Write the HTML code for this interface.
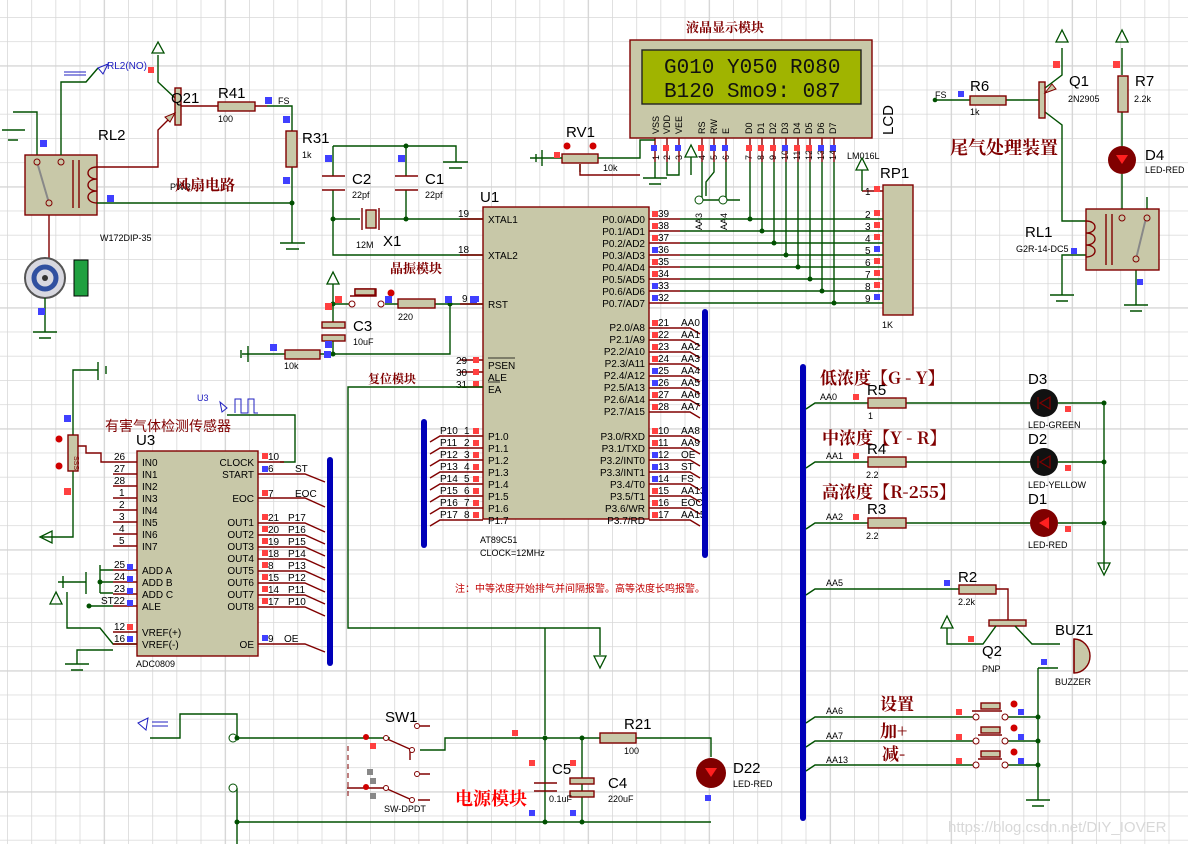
<!DOCTYPE html>
<html><head><meta charset="utf-8"><style>
html,body{margin:0;padding:0;background:#fff}
svg{display:block}
text{font-family:"Liberation Sans","Noto Sans CJK SC",sans-serif;fill:#000}
.w{stroke:#005000;stroke-width:1.4;fill:none}
.r{stroke:#800000;stroke-width:1.4;fill:none}
.c{fill:#c8c8a8;stroke:#800000;stroke-width:1.4}
.bus{stroke:#0000b8;stroke-width:6;stroke-linecap:round}
.t{font-size:10px}
.s{font-size:9px}
.l{font-size:15px}
.cn{font-family:"Noto Serif CJK SC","Noto Sans CJK SC",serif;font-weight:bold;fill:#800000}
.b{fill:#4040ff}.p{fill:#ff4040}
</style></head><body>
<svg width="1188" height="844" viewBox="0 0 1188 844" xmlns="http://www.w3.org/2000/svg">
<defs>
<pattern id="g1" x="7" y="17" width="24.2" height="24.2" patternUnits="userSpaceOnUse">
<path d="M0 0V24.2M0 0H24.2" stroke="#d8d8d8" stroke-width="1.6" fill="none"/></pattern>
<pattern id="g2" x="103.8" y="65.4" width="121" height="121" patternUnits="userSpaceOnUse">
<path d="M0 0V121M0 0H121" stroke="#d2d2d2" stroke-width="2.2" fill="none"/></pattern>
</defs>
<rect width="1188" height="844" fill="#fff"/>
<rect width="1188" height="844" fill="url(#g1)"/>
<rect width="1188" height="844" fill="url(#g2)"/>

<!-- ===== Fan circuit ===== -->
<path class="w" d="M13 112H37V155M2 130H25M8 140H18"/>
<rect class="c" x="25" y="155" width="72" height="60"/>
<path d="M37 162L49 203" stroke="#888" stroke-width="2"/>
<circle cx="37" cy="162" r="3" fill="#c8c8a8" stroke="#800000"/><circle cx="61" cy="162" r="3" fill="#c8c8a8" stroke="#800000"/><circle cx="49" cy="203" r="3" fill="#c8c8a8" stroke="#800000"/>
<path class="r" d="M73 160V208M79 160V208M97 167C85 167 85 179 97 179C85 179 85 191 97 191C85 191 85 203 97 203"/>
<path class="w" d="M61 155V82H86L98 68"/>
<path d="M98 68L108 64 103 74Z" fill="none" stroke="#2020c0"/>
<path d="M64 72H86M64 75H86" stroke="#2020c0"/>
<text x="107" y="69" class="t" style="fill:#2020c0">RL2(NO)</text>
<rect x="148" y="67" width="6" height="6" class="p"/>
<path class="w" d="M158 55V82L175 98"/>
<path d="M158 42L152 53H164Z" fill="none" stroke="#005000" stroke-width="1.3"/>
<rect class="c" x="175" y="88" width="6" height="37"/>
<path class="r" d="M175 113L158 130V167H97"/>
<path d="M175 113L165 117 170 122Z" fill="#c8c8a8" stroke="#800000"/>
<text x="171" y="103" class="l">Q21</text>
<text x="98" y="140" class="l">RL2</text>
<text x="100" y="241" class="s">W172DIP-35</text>
<path class="r" d="M181 106H218M255 106H267"/>
<rect class="c" x="218" y="102" width="37" height="9"/>
<text x="218" y="98" class="l">R41</text><text x="218" y="122" class="s">100</text>
<path class="w" d="M267 106H292V131M292 167V203H97M292 203V243"/>
<rect class="c" x="286" y="131" width="11" height="36"/>
<text x="302" y="143" class="l">R31</text><text x="302" y="158" class="s">1k</text>
<text x="278" y="104" class="s">FS</text>
<rect x="265" y="97" width="7" height="7" class="b"/><rect x="283" y="116" width="7" height="7" class="b"/><rect x="283" y="177" width="7" height="7" class="b"/><rect x="107" y="195" width="7" height="7" class="b"/><rect x="40" y="140" width="7" height="7" class="b"/>
<circle cx="292" cy="203" r="2.5" fill="#005000"/>
<path class="w" d="M280 243H305M286 249H299"/>
<text x="170" y="190" class="s">PWR</text>
<text x="175" y="190" class="cn" font-size="15">风扇电路</text>
<path class="r" d="M49 215V258"/>
<circle cx="45" cy="278" r="20" fill="#d8d8e0" stroke="#555" stroke-width="2"/>
<circle cx="45" cy="278" r="11" fill="none" stroke="#3050a0" stroke-width="5"/>
<circle cx="45" cy="278" r="3" fill="#333"/>
<rect x="74" y="260" width="14" height="36" fill="#20a040" stroke="#000"/>
<path class="w" d="M45 298V332M33 332H57M39 338H51"/>
<rect x="38" y="308" width="7" height="7" class="b"/>

<!-- ===== Crystal ===== -->
<path class="w" d="M333 146H456V162M333 146V176M406 146V176M333 190V255H483M333 219H360M380 219H483M406 190V219M443 162H468M449 168H462"/>
<path class="r" d="M322 176H345M322 190H345M395 176H418M395 190H418M362 208V230M379 208V230"/>
<rect class="c" x="366" y="210" width="10" height="18"/>
<circle cx="333" cy="219" r="2.5" fill="#005000"/><circle cx="406" cy="219" r="2.5" fill="#005000"/><circle cx="406" cy="146" r="2.5" fill="#005000"/>
<text x="352" y="184" class="l">C2</text><text x="352" y="198" class="s">22pf</text>
<text x="425" y="184" class="l">C1</text><text x="425" y="198" class="s">22pf</text>
<text x="356" y="248" class="s">12M</text><text x="383" y="246" class="l">X1</text>
<rect x="325" y="155" width="7" height="7" class="b"/><rect x="398" y="155" width="7" height="7" class="b"/>
<text x="390" y="273" class="cn" font-size="13">晶振模块</text>
<path d="M333 272L327 284H339Z" fill="none" stroke="#005000" stroke-width="1.3"/>
<path class="w" d="M333 284V322M333 304H350M385 304H398M435 304H483M450 304V354H333V335M242 354H285M320 354H333M248 346V362M241 350V358"/>
<circle cx="352" cy="304" r="3" fill="#fff" stroke="#800000"/><circle cx="381" cy="304" r="3" fill="#fff" stroke="#800000"/>
<path class="r" d="M350 296H376V289H355V296"/>
<rect class="c" x="355" y="289" width="20" height="6"/>
<circle cx="391" cy="293" r="3.5" fill="#d00000"/>
<rect class="c" x="398" y="299" width="37" height="9"/>
<text x="398" y="320" class="s">220</text>
<rect class="c" x="322" y="322" width="23" height="6"/><rect class="c" x="322" y="335" width="23" height="6"/>
<text x="353" y="331" class="l">C3</text><text x="353" y="345" class="s">10uF</text>
<rect class="c" x="285" y="350" width="35" height="9"/><text x="284" y="369" class="s">10k</text>
<circle cx="333" cy="304" r="2.5" fill="#005000"/><circle cx="450" cy="304" r="2.5" fill="#005000"/><circle cx="333" cy="354" r="2.5" fill="#005000"/>
<rect x="335" y="296" width="7" height="7" class="p"/><rect x="325" y="303" width="7" height="7" class="p"/><rect x="385" y="296" width="7" height="7" class="b"/><rect x="445" y="296" width="7" height="7" class="b"/><rect x="470" y="296" width="7" height="7" class="b"/><rect x="325" y="341" width="7" height="7" class="b"/><rect x="270" y="344" width="7" height="7" class="b"/><rect x="324" y="351" width="7" height="7" class="b"/>

<!-- ===== U1 ===== -->
<rect class="c" x="483" y="207" width="166" height="312"/>
<text x="480" y="202" class="l">U1</text>
<path class="r" d="M460 219H483M460 255H483M460 304H483M460 360H483M460 372H483M460 387H483"/>
<text x="458" y="217" class="t">19</text><text x="458" y="253" class="t">18</text><text x="462" y="302" class="t">9</text>
<text x="456" y="364" class="t">29</text><text x="456" y="376" class="t">30</text><text x="456" y="388" class="t">31</text>
<rect x="473" y="357" width="6" height="6" class="p"/><rect x="473" y="369" width="6" height="6" class="p"/><rect x="473" y="381" width="6" height="6" class="p"/>
<g class="t"><text x="488" y="223">XTAL1</text><text x="488" y="259">XTAL2</text><text x="488" y="308">RST</text>
<text x="488" y="369">PSEN</text><text x="488" y="381">ALE</text><text x="488" y="393">EA</text>
<text x="488" y="440">P1.0</text><text x="488" y="452">P1.1</text><text x="488" y="464">P1.2</text><text x="488" y="476">P1.3</text><text x="488" y="488">P1.4</text><text x="488" y="500">P1.5</text><text x="488" y="512">P1.6</text><text x="488" y="524">P1.7</text></g>
<path d="M488 358H515M488 382H500" stroke="#000" stroke-width="0.8"/>
<g class="t" text-anchor="end"><text x="645" y="223">P0.0/AD0</text><text x="645" y="235">P0.1/AD1</text><text x="645" y="247">P0.2/AD2</text><text x="645" y="259">P0.3/AD3</text><text x="645" y="271">P0.4/AD4</text><text x="645" y="283">P0.5/AD5</text><text x="645" y="295">P0.6/AD6</text><text x="645" y="307">P0.7/AD7</text>
<text x="645" y="331">P2.0/A8</text><text x="645" y="343">P2.1/A9</text><text x="645" y="355">P2.2/A10</text><text x="645" y="367">P2.3/A11</text><text x="645" y="379">P2.4/A12</text><text x="645" y="391">P2.5/A13</text><text x="645" y="403">P2.6/A14</text><text x="645" y="415">P2.7/A15</text>
<text x="645" y="440">P3.0/RXD</text><text x="645" y="452">P3.1/TXD</text><text x="645" y="464">P3.2/INT0</text><text x="645" y="476">P3.3/INT1</text><text x="645" y="488">P3.4/T0</text><text x="645" y="500">P3.5/T1</text><text x="645" y="512">P3.6/WR</text><text x="645" y="524">P3.7/RD</text></g>
<text x="480" y="543" class="s">AT89C51</text><text x="480" y="556" class="s">CLOCK=12MHz</text>
<g class="r">
<path d="M649 219H680M649 231H680M649 243H680M649 255H680M649 267H680M649 279H680M649 291H680M649 303H680"/>
<path d="M649 328H690L700 334M649 340H690L700 346M649 352H690L700 358M649 364H690L700 370M649 376H690L700 382M649 388H690L700 394M649 400H690L700 406M649 412H690L700 418"/>
<path d="M649 436H690L700 442M649 448H690L700 454M649 460H690L700 466M649 472H690L700 478M649 484H690L700 490M649 496H690L700 502M649 508H690L700 514M649 520H690L700 526"/>
<path d="M483 436H440L430 442M483 448H440L430 454M483 460H440L430 466M483 472H440L430 478M483 484H440L430 490M483 496H440L430 502M483 508H440L430 514M483 520H440L430 526"/>
</g>
<g class="t"><text x="658" y="217">39</text><text x="658" y="229">38</text><text x="658" y="241">37</text><text x="658" y="253">36</text><text x="658" y="265">35</text><text x="658" y="277">34</text><text x="658" y="289">33</text><text x="658" y="301">32</text>
<text x="658" y="326">21</text><text x="658" y="338">22</text><text x="658" y="350">23</text><text x="658" y="362">24</text><text x="658" y="374">25</text><text x="658" y="386">26</text><text x="658" y="398">27</text><text x="658" y="410">28</text>
<text x="658" y="434">10</text><text x="658" y="446">11</text><text x="658" y="458">12</text><text x="658" y="470">13</text><text x="658" y="482">14</text><text x="658" y="494">15</text><text x="658" y="506">16</text><text x="658" y="518">17</text>
<text x="681" y="326">AA0</text><text x="681" y="338">AA1</text><text x="681" y="350">AA2</text><text x="681" y="362">AA3</text><text x="681" y="374">AA4</text><text x="681" y="386">AA5</text><text x="681" y="398">AA6</text><text x="681" y="410">AA7</text>
<text x="681" y="434">AA8</text><text x="681" y="446">AA9</text><text x="681" y="458">OE</text><text x="681" y="470">ST</text><text x="681" y="482">FS</text><text x="681" y="494">AA13</text><text x="681" y="506">EOC</text><text x="681" y="518">AA15</text>
<text x="440" y="434">P10</text><text x="440" y="446">P11</text><text x="440" y="458">P12</text><text x="440" y="470">P13</text><text x="440" y="482">P14</text><text x="440" y="494">P15</text><text x="440" y="506">P16</text><text x="440" y="518">P17</text>
<text x="464" y="434">1</text><text x="464" y="446">2</text><text x="464" y="458">3</text><text x="464" y="470">4</text><text x="464" y="482">5</text><text x="464" y="494">6</text><text x="464" y="506">7</text><text x="464" y="518">8</text></g>
<g class="p"><rect x="652" y="211" width="6" height="6"/><rect x="652" y="223" width="6" height="6"/><rect x="652" y="235" width="6" height="6"/><rect x="652" y="259" width="6" height="6"/><rect x="652" y="271" width="6" height="6"/>
<rect x="652" y="320" width="6" height="6"/><rect x="652" y="332" width="6" height="6"/><rect x="652" y="344" width="6" height="6"/><rect x="652" y="356" width="6" height="6"/><rect x="652" y="392" width="6" height="6"/><rect x="652" y="404" width="6" height="6"/>
<rect x="652" y="428" width="6" height="6"/><rect x="652" y="440" width="6" height="6"/><rect x="652" y="488" width="6" height="6"/><rect x="652" y="500" width="6" height="6"/><rect x="652" y="512" width="6" height="6"/>
<rect x="473" y="428" width="6" height="6"/><rect x="473" y="440" width="6" height="6"/><rect x="473" y="452" width="6" height="6"/><rect x="473" y="464" width="6" height="6"/><rect x="473" y="476" width="6" height="6"/><rect x="473" y="488" width="6" height="6"/><rect x="473" y="500" width="6" height="6"/><rect x="473" y="512" width="6" height="6"/></g>
<g class="b"><rect x="652" y="247" width="6" height="6"/><rect x="652" y="283" width="6" height="6"/><rect x="652" y="295" width="6" height="6"/><rect x="652" y="368" width="6" height="6"/><rect x="652" y="380" width="6" height="6"/><rect x="652" y="452" width="6" height="6"/><rect x="652" y="464" width="6" height="6"/><rect x="652" y="476" width="6" height="6"/><rect x="473" y="296" width="6" height="6"/></g>
<line class="bus" x1="424" y1="422" x2="424" y2="545"/>
<line class="bus" x1="705" y1="312" x2="705" y2="555"/>
<text x="368" y="383" class="cn" font-size="12">复位模块</text>
<path class="w" d="M483 387H348V628H600V655M545 628V735"/>
<path d="M600 668L594 656H606Z" fill="none" stroke="#005000" stroke-width="1.3"/>
<text x="455" y="592" class="t" style="fill:#c00000;font-family:'Noto Sans CJK SC',sans-serif">注：中等浓度开始排气并间隔报警。高等浓度长鸣报警。</text>

<!-- ===== LCD ===== -->
<text x="686" y="32" class="cn" font-size="13">液晶显示模块</text>
<rect class="c" x="630" y="40" width="242" height="98"/>
<rect x="642" y="50" width="219" height="54" fill="#a0b400" stroke="#222" stroke-width="1.4"/>
<text x="664" y="73" style="font-family:'Liberation Mono',monospace;font-size:21px;fill:#111">G010 Y050 R080</text>
<text x="664" y="97" style="font-family:'Liberation Mono',monospace;font-size:21px;fill:#111">B120 Smo9: 087</text>
<g class="s">
<text transform="translate(659,134) rotate(-90)">VSS</text><text transform="translate(670,134) rotate(-90)">VDD</text><text transform="translate(682,134) rotate(-90)">VEE</text>
<text transform="translate(705,134) rotate(-90)">RS</text><text transform="translate(717,134) rotate(-90)">RW</text><text transform="translate(729,134) rotate(-90)">E</text>
<text transform="translate(752,134) rotate(-90)">D0</text><text transform="translate(764,134) rotate(-90)">D1</text><text transform="translate(776,134) rotate(-90)">D2</text><text transform="translate(788,134) rotate(-90)">D3</text><text transform="translate(800,134) rotate(-90)">D4</text><text transform="translate(812,134) rotate(-90)">D5</text><text transform="translate(824,134) rotate(-90)">D6</text><text transform="translate(836,134) rotate(-90)">D7</text>
<text transform="translate(659,160) rotate(-90)">1</text><text transform="translate(670,160) rotate(-90)">2</text><text transform="translate(682,160) rotate(-90)">3</text><text transform="translate(705,160) rotate(-90)">4</text><text transform="translate(717,160) rotate(-90)">5</text><text transform="translate(729,160) rotate(-90)">6</text>
<text transform="translate(752,160) rotate(-90)">7</text><text transform="translate(764,160) rotate(-90)">8</text><text transform="translate(776,160) rotate(-90)">9</text><text transform="translate(788,160) rotate(-90)">10</text><text transform="translate(800,160) rotate(-90)">11</text><text transform="translate(812,160) rotate(-90)">12</text><text transform="translate(824,160) rotate(-90)">13</text><text transform="translate(836,160) rotate(-90)">14</text>
</g>
<text transform="translate(893,135) rotate(-90)" class="l">LCD</text>
<text x="847" y="159" class="s">LM016L</text>
<g class="r"><path d="M655 138V162M667 138V162M679 138V162M702 138V162M714 138V162M726 138V162M750 138V162M762 138V162M774 138V162M786 138V162M798 138V162M810 138V162M822 138V162M834 138V162"/></g>
<path class="w" d="M655 162V178M643 178H667M649 184H661M667 162V175H679V162M691 157V175M702 162V200H740M714 162V172L706 182V196M726 162V200"/>
<path d="M691 145L685 157H697Z" fill="none" stroke="#005000" stroke-width="1.3"/>
<circle cx="699" cy="200" r="4" fill="#fff" stroke="#005000"/><circle cx="723" cy="200" r="4" fill="#fff" stroke="#005000"/>
<text transform="translate(702,230) rotate(-90)" class="s">AA3</text><text transform="translate(727,230) rotate(-90)" class="s">AA4</text>
<g class="w"><path d="M750 162V219M762 162V231M774 162V243M786 162V255M798 162V267M810 162V279M822 162V291M834 162V303"/>
<path d="M680 219H873M680 231H873M680 243H873M680 255H873M680 267H873M680 279H873M680 291H873M680 303H873"/></g>
<g fill="#005000"><circle cx="750" cy="219" r="2.5"/><circle cx="762" cy="231" r="2.5"/><circle cx="774" cy="243" r="2.5"/><circle cx="786" cy="255" r="2.5"/><circle cx="798" cy="267" r="2.5"/><circle cx="810" cy="279" r="2.5"/><circle cx="822" cy="291" r="2.5"/><circle cx="834" cy="303" r="2.5"/></g>
<g class="b"><rect x="651" y="145" width="6" height="6"/><rect x="675" y="145" width="6" height="6"/><rect x="710" y="145" width="6" height="6"/><rect x="722" y="145" width="6" height="6"/><rect x="782" y="145" width="6" height="6"/><rect x="818" y="145" width="6" height="6"/><rect x="830" y="145" width="6" height="6"/></g>
<g class="p"><rect x="663" y="145" width="6" height="6"/><rect x="698" y="145" width="6" height="6"/><rect x="746" y="145" width="6" height="6"/><rect x="758" y="145" width="6" height="6"/><rect x="770" y="145" width="6" height="6"/><rect x="794" y="145" width="6" height="6"/><rect x="806" y="145" width="6" height="6"/></g>
<!-- RV1 -->
<text x="566" y="137" class="l">RV1</text>
<rect class="c" x="562" y="154" width="36" height="9"/>
<path class="w" d="M530 158H562M598 158H640V140H655M542 150V166M536 154V162M580 172V164"/>
<path class="r" d="M580 164V175H640"/>
<circle cx="567" cy="146" r="3.5" fill="#d00000"/><circle cx="593" cy="146" r="3.5" fill="#d00000"/>
<text x="603" y="171" class="s">10k</text>
<rect x="554" y="152" width="6" height="6" class="p"/>
<!-- RP1 -->
<rect class="c" x="883" y="185" width="30" height="130"/>
<text x="880" y="178" class="l">RP1</text><text x="882" y="328" class="s">1K</text>
<path class="r" d="M862 191H883"/><path class="w" d="M862 191V170M873 219H883M873 231H883M873 243H883M873 255H883M873 267H883M873 279H883M873 291H883M873 303H883"/>
<path d="M862 158L856 170H868Z" fill="none" stroke="#005000" stroke-width="1.3"/>
<g class="t"><text x="865" y="195">1</text><text x="865" y="218">2</text><text x="865" y="230">3</text><text x="865" y="242">4</text><text x="865" y="254">5</text><text x="865" y="266">6</text><text x="865" y="278">7</text><text x="865" y="290">8</text><text x="865" y="302">9</text></g>
<g class="p"><rect x="874" y="186" width="6" height="6"/><rect x="874" y="210" width="6" height="6"/><rect x="874" y="222" width="6" height="6"/><rect x="874" y="234" width="6" height="6"/><rect x="874" y="258" width="6" height="6"/><rect x="874" y="270" width="6" height="6"/><rect x="874" y="282" width="6" height="6"/></g>
<g class="b"><rect x="874" y="246" width="6" height="6"/><rect x="874" y="294" width="6" height="6"/></g>

<!-- ===== Exhaust ===== -->
<path class="w" d="M935 100H970M1006 100H1039M1062 48V75L1045 88M1045 112L1062 125V221H1086M1122 48V75M1122 112V146M1122 174V209M1086 255H1062V295M1050 295H1074M1056 301H1068M1136 270V305M1124 305H1148M1130 311H1142M1147 197V212"/>
<circle cx="935" cy="100" r="2.3" fill="#005000"/>
<path d="M1062 30L1056 42H1068Z M1122 30L1116 42H1128Z" fill="none" stroke="#005000" stroke-width="1.3"/>
<rect class="c" x="970" y="96" width="36" height="9"/>
<text x="970" y="91" class="l">R6</text><text x="970" y="115" class="s">1k</text><text x="935" y="98" class="s">FS</text>
<rect x="958" y="91" width="6" height="6" class="b"/>
<rect class="c" x="1039" y="82" width="6" height="36"/>
<path d="M1045 93L1052 84 1056 89Z" fill="#c8c8a8" stroke="#800000"/>
<text x="1069" y="86" class="l">Q1</text><text x="1068" y="102" class="s">2N2905</text>
<rect x="1053" y="61" width="7" height="7" class="p"/><rect x="1113" y="61" width="7" height="7" class="p"/>
<rect class="c" x="1118" y="76" width="10" height="36"/>
<text x="1135" y="86" class="l">R7</text><text x="1134" y="102" class="s">2.2k</text>
<circle cx="1122" cy="160" r="14" fill="#800000"/><path d="M1116 155H1128L1122 164Z" fill="#ff2020"/>
<text x="1145" y="160" class="l">D4</text><text x="1145" y="173" class="s">LED-RED</text>
<text x="950" y="154" class="cn" font-size="18">尾气处理装置</text>
<rect class="c" x="1086" y="209" width="73" height="61"/>
<path class="r" d="M1086 221C1098 221 1098 233 1086 233C1098 233 1098 245 1086 245C1098 245 1098 257 1086 257M1106 214V265M1112 214V265"/>
<path d="M1146 218L1136 259" stroke="#888" stroke-width="2"/>
<circle cx="1122" cy="218" r="3" fill="#c8c8a8" stroke="#800000"/><circle cx="1147" cy="218" r="3" fill="#c8c8a8" stroke="#800000"/><circle cx="1136" cy="259" r="3" fill="#c8c8a8" stroke="#800000"/>
<text x="1025" y="237" class="l">RL1</text><text x="1016" y="252" class="s">G2R-14-DC5</text>
<rect x="1071" y="248" width="6" height="6" class="b"/><rect x="1137" y="279" width="6" height="6" class="b"/>

<!-- ===== Right LEDs ===== -->
<line class="bus" x1="803" y1="367" x2="803" y2="818"/>
<text x="820" y="384" class="cn" font-size="17">低浓度【G - Y】</text>
<text x="822" y="444" class="cn" font-size="17">中浓度【Y - R】</text>
<text x="822" y="498" class="cn" font-size="17">高浓度【R-255】</text>
<g class="w"><path d="M806 409L815 403H868M906 403H1030M1058 403H1104M806 468L815 462H868M906 462H1030M1058 462H1104M806 529L815 523H868M906 523H1030M1058 523H1104M1104 403V570"/>
<path d="M806 595L815 589H959M806 723L815 717H974M806 747L815 741H974M806 771L815 765H974M1006 717H1038M1006 741H1038M1006 765H1038M1038 668V800M1026 800H1050M1032 806H1044M1038 668H1058"/></g>
<path d="M1104 575L1098 563H1110Z" fill="none" stroke="#005000" stroke-width="1.3"/>
<g fill="#005000"><circle cx="1104" cy="403" r="2.5"/><circle cx="1104" cy="462" r="2.5"/><circle cx="1104" cy="523" r="2.5"/><circle cx="1038" cy="717" r="2.5"/><circle cx="1038" cy="741" r="2.5"/><circle cx="1038" cy="765" r="2.5"/></g>
<rect class="c" x="868" y="398" width="38" height="10"/><rect class="c" x="868" y="457" width="38" height="10"/><rect class="c" x="868" y="518" width="38" height="10"/>
<g class="s"><text x="820" y="400">AA0</text><text x="826" y="459">AA1</text><text x="826" y="520">AA2</text><text x="826" y="586">AA5</text><text x="826" y="714">AA6</text><text x="826" y="739">AA7</text><text x="826" y="763">AA13</text>
<text x="868" y="419">1</text><text x="866" y="478">2.2</text><text x="866" y="539">2.2</text>
<text x="1028" y="428">LED-GREEN</text><text x="1028" y="488">LED-YELLOW</text><text x="1028" y="548">LED-RED</text>
<text x="958" y="605">2.2k</text><text x="982" y="672">PNP</text><text x="1055" y="685">BUZZER</text></g>
<g class="l"><text x="867" y="395">R5</text><text x="867" y="454">R4</text><text x="867" y="514">R3</text><text x="1028" y="384">D3</text><text x="1028" y="444">D2</text><text x="1028" y="504">D1</text><text x="958" y="582">R2</text><text x="982" y="656">Q2</text><text x="1055" y="635">BUZ1</text></g>
<circle cx="1044" cy="403" r="14" fill="#111"/><path d="M1050 397V409L1040 403Z M1038 397V409" fill="none" stroke="#800000" stroke-width="1.2"/>
<circle cx="1044" cy="462" r="14" fill="#111"/><path d="M1050 456V468L1040 462Z M1038 456V468" fill="none" stroke="#800000" stroke-width="1.2"/>
<circle cx="1044" cy="523" r="14" fill="#800000"/><path d="M1049 517V529L1039 523Z" fill="#ff2020"/>
<g class="p"><rect x="853" y="394" width="6" height="6"/><rect x="853" y="453" width="6" height="6"/><rect x="853" y="514" width="6" height="6"/><rect x="1065" y="406" width="6" height="6"/><rect x="1065" y="465" width="6" height="6"/><rect x="1065" y="526" width="6" height="6"/><rect x="968" y="636" width="6" height="6"/><rect x="956" y="709" width="6" height="6"/><rect x="956" y="734" width="6" height="6"/><rect x="956" y="758" width="6" height="6"/></g>
<g class="b"><rect x="944" y="580" width="6" height="6"/><rect x="1041" y="659" width="6" height="6"/><rect x="1018" y="709" width="6" height="6"/><rect x="1018" y="734" width="6" height="6"/><rect x="1018" y="758" width="6" height="6"/></g>
<rect class="c" x="959" y="585" width="37" height="9"/>
<path class="r" d="M996 589H1008V620"/>
<rect class="c" x="989" y="620" width="37" height="6"/>
<path class="w" d="M947 628V644H983L996 626M1015 626L1032 644H1060"/>
<path d="M947 616L941 628H953Z" fill="none" stroke="#005000" stroke-width="1.3"/>
<path d="M1074 639A16 17 0 0 1 1074 673Z" fill="#c8c8a8" stroke="#800000" stroke-width="1.4"/>
<path class="r" d="M1074 639V673"/>
<!-- switches -->
<path class="r" d="M972 711H1002M978 735H1002M978 759H1002"/>
<rect class="c" x="981" y="703" width="19" height="6"/><rect class="c" x="981" y="727" width="19" height="6"/><rect class="c" x="981" y="751" width="19" height="6"/>
<g fill="#fff" stroke="#800000"><circle cx="976" cy="717" r="3"/><circle cx="1005" cy="717" r="3"/><circle cx="976" cy="741" r="3"/><circle cx="1005" cy="741" r="3"/><circle cx="976" cy="765" r="3"/><circle cx="1005" cy="765" r="3"/></g>
<g fill="#d00000"><circle cx="1014" cy="704" r="3.5"/><circle cx="1014" cy="728" r="3.5"/><circle cx="1014" cy="752" r="3.5"/></g>
<text x="880" y="710" class="cn" font-size="17">设置</text><text x="880" y="737" class="cn" font-size="17">加+</text><text x="882" y="760" class="cn" font-size="17">减-</text>
<text x="948" y="832" style="font-size:15px;fill:#d8d8d8">https://blog.csdn.net/DIY_IOVER</text>

<!-- ===== ADC ===== -->
<path class="w" d="M73 437V370H98M98 362V380M106 366V374M73 470V537H42M67 592V628H100L113 644H137M77 664V650H113M65 664H89M71 670H83"/>
<path d="M40 537L52 531V543Z" fill="none" stroke="#005000" stroke-width="1.3"/>
<path d="M56 592L50 604H62Z" fill="none" stroke="#005000" stroke-width="1.3"/>
<path class="w" d="M100 565V593M100 570H113M100 582H113M100 593H113M58 582H86M63 576V588M86 572V594M89 606H113"/>
<circle cx="100" cy="582" r="2.5" fill="#005000"/><circle cx="89" cy="606" r="2.5" fill="#005000"/>
<rect class="c" x="68" y="435" width="10" height="36"/>
<text transform="translate(74,456) rotate(90)" style="font-size:7px;fill:#800000">SSS</text>
<path class="r" d="M78 446H86V453H101V462H113"/>
<circle cx="59" cy="439" r="3.5" fill="#d00000"/><circle cx="59" cy="466" r="3.5" fill="#d00000"/>
<rect x="64" y="415" width="7" height="7" class="b"/><rect x="64" y="488" width="7" height="7" class="p"/>
<text x="197" y="401" class="s" style="fill:#2020c0">U3</text>
<path d="M220 402L227 408 222 412Z" fill="none" stroke="#2020c0"/><path d="M235 413V399H241V413H248V399H254V413H258" fill="none" stroke="#2020c0"/>
<path class="w" d="M227 415H295V462H280"/>
<text x="105" y="431" style="font-size:14px;fill:#800000;font-family:'Noto Sans CJK SC',sans-serif">有害气体检测传感器</text>
<text x="136" y="445" class="l">U3</text>
<rect class="c" x="137" y="451" width="121" height="205"/>
<g class="r"><path d="M113 462H137M113 474H137M113 486H137M113 498H137M113 510H137M113 522H137M113 534H137M113 546H137M113 570H137M113 582H137M113 594H137M113 606H137M113 632H137M113 644H137"/>
<path d="M258 462H284M258 474H305L325 482M258 498H305L325 507M258 523H305L325 532M258 535H305L325 544M258 547H305L325 556M258 559H305L325 568M258 571H305L325 580M258 583H305L325 592M258 595H305L325 604M258 607H305L325 616M258 644H305L325 652"/></g>
<g class="t"><text x="142" y="466">IN0</text><text x="142" y="478">IN1</text><text x="142" y="490">IN2</text><text x="142" y="502">IN3</text><text x="142" y="514">IN4</text><text x="142" y="526">IN5</text><text x="142" y="538">IN6</text><text x="142" y="550">IN7</text><text x="142" y="574">ADD A</text><text x="142" y="586">ADD B</text><text x="142" y="598">ADD C</text><text x="142" y="610">ALE</text><text x="142" y="636">VREF(+)</text><text x="142" y="648">VREF(-)</text>
<text x="114" y="460">26</text><text x="114" y="472">27</text><text x="114" y="484">28</text><text x="119" y="496">1</text><text x="119" y="508">2</text><text x="119" y="520">3</text><text x="119" y="532">4</text><text x="119" y="544">5</text><text x="114" y="568">25</text><text x="114" y="580">24</text><text x="114" y="592">23</text><text x="101" y="604">ST22</text><text x="114" y="630">12</text><text x="114" y="642">16</text>
<text x="268" y="460">10</text><text x="268" y="472">6</text><text x="268" y="497">7</text><text x="268" y="521">21</text><text x="268" y="533">20</text><text x="268" y="545">19</text><text x="268" y="557">18</text><text x="268" y="569">8</text><text x="268" y="581">15</text><text x="268" y="593">14</text><text x="268" y="605">17</text><text x="268" y="642">9</text>
<text x="295" y="472">ST</text><text x="295" y="497">EOC</text><text x="288" y="521">P17</text><text x="288" y="533">P16</text><text x="288" y="545">P15</text><text x="288" y="557">P14</text><text x="288" y="569">P13</text><text x="288" y="581">P12</text><text x="288" y="593">P11</text><text x="288" y="605">P10</text><text x="284" y="642">OE</text></g>
<g class="t" text-anchor="end"><text x="254" y="466">CLOCK</text><text x="254" y="478">START</text><text x="254" y="502">EOC</text><text x="254" y="526">OUT1</text><text x="254" y="538">OUT2</text><text x="254" y="550">OUT3</text><text x="254" y="562">OUT4</text><text x="254" y="574">OUT5</text><text x="254" y="586">OUT6</text><text x="254" y="598">OUT7</text><text x="254" y="610">OUT8</text><text x="254" y="648">OE</text></g>
<text x="136" y="667" class="s">ADC0809</text>
<g class="p"><rect x="262" y="453" width="6" height="6"/><rect x="262" y="490" width="6" height="6"/><rect x="262" y="514" width="6" height="6"/><rect x="262" y="526" width="6" height="6"/><rect x="262" y="538" width="6" height="6"/><rect x="262" y="550" width="6" height="6"/><rect x="262" y="562" width="6" height="6"/><rect x="262" y="574" width="6" height="6"/><rect x="262" y="586" width="6" height="6"/><rect x="262" y="598" width="6" height="6"/><rect x="127" y="624" width="6" height="6"/></g>
<g class="b"><rect x="262" y="466" width="6" height="6"/><rect x="262" y="635" width="6" height="6"/><rect x="127" y="564" width="6" height="6"/><rect x="127" y="576" width="6" height="6"/><rect x="127" y="588" width="6" height="6"/><rect x="127" y="600" width="6" height="6"/><rect x="127" y="636" width="6" height="6"/></g>
<line class="bus" x1="330" y1="460" x2="330" y2="663"/>

<!-- ===== Power ===== -->
<path d="M138 723L148 718 146 730Z" fill="none" stroke="#2020c0"/><path d="M152 722H168M152 726H168" stroke="#2020c0"/>
<path class="w" d="M150 738H180V714H237V738M237 738H390M237 788V822H711M237 822V844M420 750H445V738H711V757M545 738V822M582 738V822M600 738H636"/>
<circle cx="233" cy="738" r="4" fill="#fff" stroke="#005000"/><circle cx="233" cy="788" r="4" fill="#fff" stroke="#005000"/>
<path class="r" d="M385 738L412 750M385 788L412 800M420 726H430M420 774H430M418 800H430M410 750V760M347 788H385"/>
<path d="M348 746V800" stroke="#800000" stroke-dasharray="5,4"/>
<g fill="#fff" stroke="#800000"><circle cx="386" cy="738" r="2.5"/><circle cx="412" cy="750" r="2.5"/><circle cx="417" cy="726" r="2.5"/><circle cx="386" cy="788" r="2.5"/><circle cx="412" cy="800" r="2.5"/><circle cx="417" cy="774" r="2.5"/></g>
<circle cx="366" cy="737" r="3" fill="#d00000"/><circle cx="366" cy="787" r="3" fill="#d00000"/>
<text x="385" y="722" class="l">SW1</text><text x="384" y="812" class="s">SW-DPDT</text>
<rect x="370" y="778" width="6" height="6" fill="#888"/><rect x="370" y="743" width="6" height="6" class="p"/><rect x="367" y="769" width="6" height="6" fill="#888"/><rect x="370" y="793" width="6" height="6" fill="#888"/>
<g fill="#005000"><circle cx="237" cy="738" r="2.5"/><circle cx="237" cy="822" r="2.5"/><circle cx="545" cy="738" r="2.5"/><circle cx="582" cy="738" r="2.5"/><circle cx="545" cy="822" r="2.5"/><circle cx="582" cy="822" r="2.5"/></g>
<path class="r" d="M534 783H557M534 791H557"/>
<rect class="c" x="570" y="778" width="24" height="6"/><rect class="c" x="570" y="791" width="24" height="6"/>
<text x="552" y="774" class="l">C5</text><text x="549" y="802" class="s">0.1uF</text>
<text x="608" y="788" class="l">C4</text><text x="608" y="802" class="s">220uF</text>
<rect class="c" x="600" y="733" width="36" height="10"/>
<text x="624" y="729" class="l">R21</text><text x="624" y="754" class="s">100</text>
<circle cx="711" cy="773" r="15" fill="#800000"/><path d="M705 768H717L711 777Z" fill="#ff2020"/>
<text x="733" y="773" class="l">D22</text><text x="733" y="787" class="s">LED-RED</text>
<text x="455" y="805" class="cn" font-size="18" style="fill:#ff0000">电源模块</text>
<g class="p"><rect x="512" y="730" width="6" height="6"/><rect x="529" y="760" width="6" height="6"/><rect x="570" y="760" width="6" height="6"/></g>
<g class="b"><rect x="529" y="810" width="6" height="6"/><rect x="570" y="810" width="6" height="6"/><rect x="705" y="795" width="6" height="6"/></g>
</svg>
</body></html>
